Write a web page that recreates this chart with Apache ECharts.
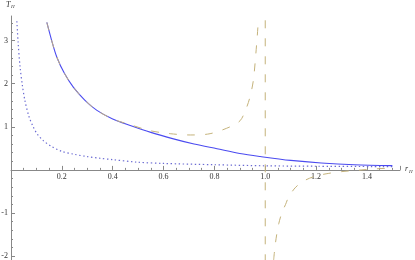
<!DOCTYPE html>
<html>
<head>
<meta charset="utf-8">
<script src="https://cdn.jsdelivr.net/npm/echarts@6/dist/echarts.min.js"></script>
<style>html,body{margin:0;padding:0;background:#fff}#c{width:415px;height:260px}</style>
</head>
<body>
<div id="c"></div>
<script>
// ---- data ----
const blueR = [0.141, 0.16, 0.18, 0.21, 0.245, 0.29, 0.338, 0.40, 0.469, 0.55, 0.639, 0.72, 0.81, 0.90, 0.98, 1.1, 1.22, 1.35, 1.5];
const blueT = [3.42, 3.0, 2.62, 2.24, 1.92, 1.62, 1.38, 1.18, 1.03, 0.87, 0.72, 0.60, 0.49, 0.38, 0.31, 0.22, 0.16, 0.12, 0.10];

const dashUpR = [0.141, 0.16, 0.18, 0.21, 0.245, 0.29, 0.338, 0.40, 0.468, 0.547, 0.626, 0.705, 0.783, 0.862, 0.901, 0.92, 0.938, 0.953, 0.966, 0.973];
const dashUpT = [3.42, 3.0, 2.62, 2.24, 1.92, 1.62, 1.38, 1.18, 1.05, 0.91, 0.84, 0.81, 0.84, 1.0, 1.14, 1.35, 1.65, 2.07, 2.91, 3.47];

const dashLoR = [1.033, 1.038, 1.045, 1.053, 1.065, 1.08, 1.092, 1.12, 1.157, 1.2, 1.25, 1.3, 1.38, 1.45, 1.5];
const dashLoT = [-2.09, -1.8, -1.5, -1.25, -1.0, -0.8, -0.63, -0.40, -0.24, -0.14, -0.08, -0.04, 0.0, 0.03, 0.04];

const asymR = [1.0, 1.0];
const asymT = [3.47, -2.09];

const dotR = [0.023, 0.028, 0.036, 0.045, 0.055, 0.07, 0.088, 0.105, 0.127, 0.16, 0.2, 0.25, 0.298, 0.35, 0.397, 0.495, 0.6, 0.8, 1.0, 1.2, 1.5];
const dotT = [3.45, 2.95, 2.37, 1.95, 1.6, 1.25, 0.99, 0.82, 0.68, 0.54, 0.43, 0.36, 0.31, 0.27, 0.24, 0.18, 0.15, 0.12, 0.095, 0.085, 0.075];

const xTickLabels = [0.2, 0.4, 0.6, 0.8, 1.0, 1.2, 1.4];
const yTickLabels = [-2, -1, 1, 2, 3];
const yMinorTicks = [];
for (let k = -10; k <= 17; k++) { const v = +(k * 0.2).toFixed(1); if (!yTickLabels.includes(v) && v !== 0) yMinorTicks.push(v); }

const zip = (a, b) => a.map((v, i) => [v, b[i]]);

const Y_MIN = -2.09, Y_MAX = 3.57, GRID_TOP = 16, GRID_BOTTOM = 0, H = 260;
const plotH = H - GRID_TOP - GRID_BOTTOM;
const zeroFromBottom = plotH * (0 - Y_MIN) / (Y_MAX - Y_MIN);

const axisCol = '#888';
const labelFont = { fontFamily: 'Liberation Serif', fontSize: 8, color: '#333' };

const chart = echarts.init(document.getElementById('c'), null, { renderer: 'canvas' });
chart.setOption({
  animation: false,
  grid: { left: 11, right: 15, top: GRID_TOP, bottom: GRID_BOTTOM, containLabel: false, outerBoundsMode: 'none' },
  xAxis: {
    type: 'value', min: 0, max: 1.53, interval: 0.2, position: 'bottom', offset: -zeroFromBottom,
    axisLine: { show: true, onZero: false, lineStyle: { color: axisCol, width: 1 } },
    axisTick: { show: true, inside: true, length: 4, lineStyle: { color: axisCol } },
    minorTick: { show: true, splitNumber: 4, length: 2, lineStyle: { color: axisCol } },
    axisLabel: Object.assign({ customValues: xTickLabels, margin: 3, formatter: v => v.toFixed(1) }, labelFont),
    splitLine: { show: false }
  },
  yAxis: [
    {
      type: 'value', min: Y_MIN, max: Y_MAX, position: 'left',
      axisLine: { show: true, onZero: false, lineStyle: { color: axisCol, width: 1 } },
      axisTick: { show: true, inside: true, length: 4, customValues: yTickLabels, lineStyle: { color: axisCol } },
      axisLabel: Object.assign({ customValues: yTickLabels, margin: 3, formatter: v => String(v) }, labelFont),
      splitLine: { show: false }
    },
    {
      type: 'value', min: Y_MIN, max: Y_MAX, position: 'left', offset: 0,
      axisLine: { show: false, onZero: false },
      axisTick: { show: true, inside: true, length: 2, customValues: yMinorTicks, lineStyle: { color: axisCol } },
      axisLabel: { show: false },
      splitLine: { show: false }
    }
  ],
  graphic: [
    { type: 'text', left: 6, top: 1, style: { text: 'T', font: 'italic 8px "Liberation Serif"', fill: '#333' } },
    { type: 'text', left: 11, top: 4, style: { text: 'H', font: 'italic 5px "Liberation Serif"', fill: '#333' } },
    { type: 'text', left: 405, top: 165, style: { text: 'r', font: 'italic 8px "Liberation Serif"', fill: '#333' } },
    { type: 'text', left: 409, top: 169, style: { text: 'H', font: 'italic 5px "Liberation Serif"', fill: '#333' } }
  ],
  series: [
    { type: 'line', data: zip(dotR, dotT), showSymbol: false, smooth: 0.3,
      lineStyle: { color: '#6a6ad2', width: 1.2, type: [1.4, 2.6] } },
    { type: 'line', data: zip(blueR, blueT), showSymbol: false, smooth: 0.3,
      lineStyle: { color: '#4b4bf0', width: 1.1 } },
    { type: 'line', data: zip(dashUpR, dashUpT), showSymbol: false, smooth: 0.3,
      lineStyle: { color: '#c4b27a', width: 1, type: [8, 10] } },
    { type: 'line', data: zip(dashLoR, dashLoT), showSymbol: false, smooth: 0.3,
      lineStyle: { color: '#c4b27a', width: 1, type: [8, 10] } },
    { type: 'line', data: zip(asymR, asymT), showSymbol: false,
      lineStyle: { color: '#c4b27a', width: 1, type: [8, 10] } }
  ]
});
</script>
</body>
</html>
